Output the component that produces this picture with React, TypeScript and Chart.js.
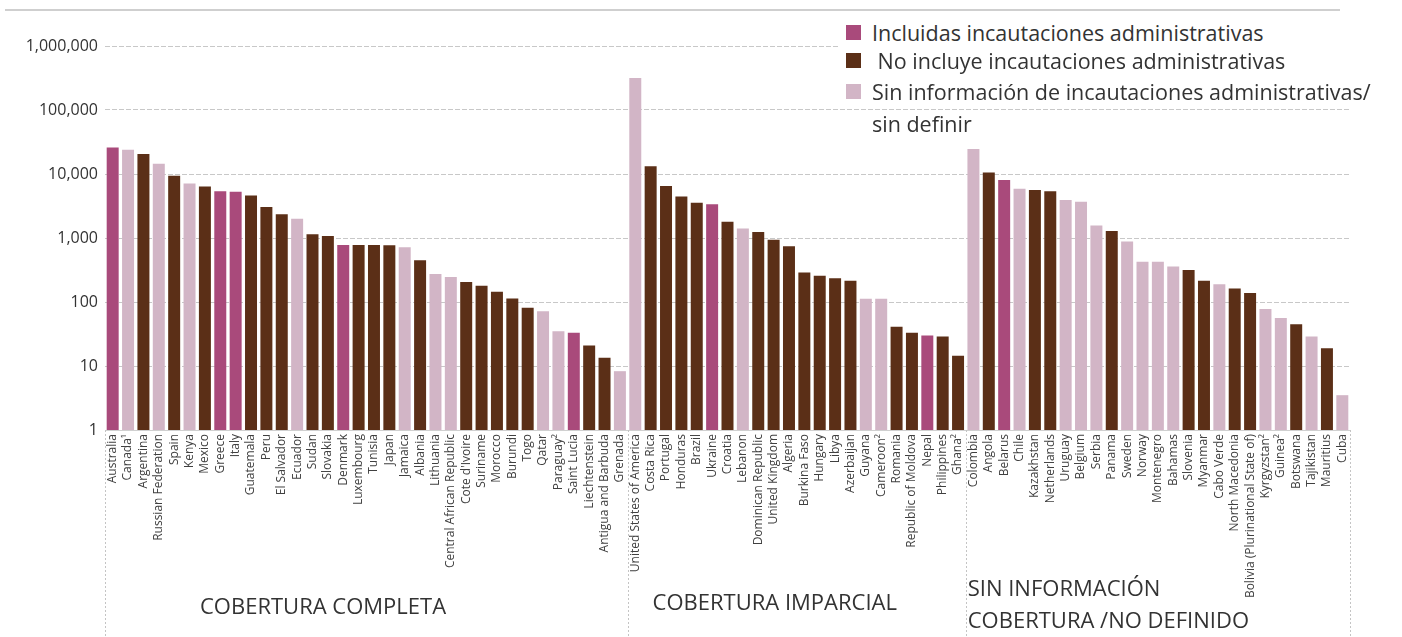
import React, { useEffect, useRef } from "react";
import { Chart, registerables } from "chart.js";

Chart.register(...registerables);

// I = incluidas incautaciones administrativas, N = no incluye, S = sin información / sin definir
const countries: string[] = [
  "Australia", "Canada¹", "Argentina", "Russian Federation", "Spain", "Kenya", "Mexico", "Greece", "Italy",
  "Guatemala", "Peru", "El Salvador", "Ecuador", "Sudan", "Slovakia", "Denmark", "Luxembourg", "Tunisia",
  "Japan", "Jamaica", "Albania", "Lithuania", "Central African Republic", "Cote d'Ivoire", "Suriname",
  "Morocco", "Burundi", "Togo", "Qatar", "Paraguay²", "Saint Lucia", "Liechtenstein", "Antigua and Barbuda",
  "Grenada",
  "United States of America", "Costa Rica", "Portugal", "Honduras", "Brazil", "Ukraine", "Croatia", "Lebanon",
  "Dominican Republic", "United Kingdom", "Algeria", "Burkina Faso", "Hungary", "Libya", "Azerbaijan", "Guyana",
  "Cameroon²", "Romania", "Republic of Moldova", "Nepal", "Philippines", "Ghana²",
  "Colombia", "Angola", "Belarus", "Chile", "Kazakhstan", "Netherlands", "Uruguay", "Belgium", "Serbia",
  "Panama", "Sweden", "Norway", "Montenegro", "Bahamas", "Slovenia", "Myanmar", "Cabo Verde",
  "North Macedonia", "Bolivia (Plurinational State of)", "Kyrgyzstan²", "Guinea²", "Botswana", "Tajikistan",
  "Mauritius", "Cuba",
];

const seizures: number[] = [
  26000, 24000, 20500, 14500, 9400, 7100, 6400, 5400, 5300,
  4600, 3050, 2350, 2000, 1140, 1070, 780, 775, 775,
  770, 720, 450, 275, 245, 205, 180,
  145, 113, 81, 72, 35, 33, 21, 13.5,
  8.3,
  315000, 13200, 6500, 4450, 3570, 3380, 1790, 1410,
  1240, 940, 740, 290, 258, 235, 215, 112,
  112, 41, 33, 30, 29, 14.5,
  24500, 10600, 8060, 5890, 5620, 5360, 3920, 3680, 1570,
  1290, 880, 425, 425, 360, 315, 215, 190,
  162, 138, 78, 56, 45, 29,
  19, 3.5,
];

const coverage: string[] = [
  "I", "S", "N", "S", "N", "S", "N", "I", "I",
  "N", "N", "N", "S", "N", "N", "I", "N", "N",
  "N", "S", "N", "S", "S", "N", "N",
  "N", "N", "N", "S", "S", "I", "N", "N",
  "S",
  "S", "N", "N", "N", "N", "I", "N", "S",
  "N", "N", "N", "N", "N", "N", "N", "S",
  "S", "N", "N", "I", "N", "N",
  "S", "N", "I", "S", "N", "N", "S", "S", "S",
  "N", "S", "S", "S", "S", "N", "N", "S",
  "N", "N", "S", "S", "N", "S",
  "N", "S",
];

const seriesKeys: string[] = ["I", "N", "S"];
const seriesNames: string[] = [
  "Incluidas incautaciones administrativas",
  " No incluye incautaciones administrativas",
  "Sin información de incautaciones administrativas/",
];
const seriesColors: string[] = ["#a94a7b", "#5b2f17", "#d2b5c6"];

const groupNames: string[][] = [
  ["COBERTURA COMPLETA"],
  ["COBERTURA IMPARCIAL"],
  ["SIN INFORMACIÓN", "COBERTURA /NO DEFINIDO"],
];
const groupFirstIndex: number[] = [0, 34, 56];

const yTicks: number[] = [1, 10, 100, 1000, 10000, 100000, 1000000];

const FONT = "'Open Sans', 'Noto Sans', sans-serif";

const groupPlugin = {
  id: "groupPlugin",
  afterDraw(chart: any) {
    const { ctx, chartArea } = chart;
    const x = chart.scales.x;
    const n = countries.length;
    const boundary = (b: number) => {
      if (b <= 0) return chartArea.left;
      if (b >= n) return chartArea.right;
      return (x.getPixelForValue(b - 1) + x.getPixelForValue(b)) / 2;
    };
    const bounds = [...groupFirstIndex, n];
    ctx.save();
    ctx.strokeStyle = "#c4c4c4";
    ctx.lineWidth = 1;
    ctx.setLineDash([2, 2]);
    bounds.forEach((b) => {
      const px = Math.round(boundary(b)) + 0.5;
      ctx.beginPath();
      ctx.moveTo(px, chartArea.bottom);
      ctx.lineTo(px, chart.height);
      ctx.stroke();
    });
    ctx.setLineDash([]);
    ctx.fillStyle = "#333333";
    ctx.font = `22px ${FONT}`;
    ctx.textBaseline = "middle";
    ctx.textAlign = "left";
    const offsets = [95, 25, 2];
    const ys = [[608], [604], [590, 622]];
    groupNames.forEach((lines, g) => {
      const left = boundary(groupFirstIndex[g]);
      lines.forEach((t, k) => {
        ctx.fillText(t, left + offsets[g], ys[g][k]);
      });
    });
    ctx.restore();
  },
};

export default function App() {
  const ref = useRef<HTMLCanvasElement | null>(null);

  useEffect(() => {
    if (!ref.current) return;
    const datasets = seriesKeys.map((k, si) => ({
      label: seriesNames[si],
      data: seizures.map((v, i) => (coverage[i] === k ? v : null)),
      backgroundColor: seriesColors[si],
      borderWidth: 0,
      skipNull: true,
      categoryPercentage: 1,
      barPercentage: 0.78,
    }));
    const chart = new Chart(ref.current, {
      type: "bar",
      data: { labels: countries, datasets: datasets as any },
      plugins: [groupPlugin],
      options: {
        responsive: false,
        animation: false,
        layout: { padding: { top: 46, right: 52, bottom: 0, left: 0 } },
        plugins: {
          legend: { display: false },
          tooltip: { enabled: false },
        },
        scales: {
          x: {
            grid: { display: false, drawTicks: false },
            border: { display: true, color: "#d0d0d0" },
            ticks: {
              autoSkip: false,
              maxRotation: 90,
              minRotation: 90,
              padding: 4,
              color: "#404040",
              font: { family: FONT, size: 12 },
            },
            afterFit(scale: any) {
              scale.height = 207;
            },
          },
          y: {
            type: "logarithmic",
            min: 1,
            max: 1000000,
            grid: { color: "#c8c8c8", drawTicks: false },
            border: { display: false, dash: [5, 2] },
            afterBuildTicks(scale: any) {
              scale.ticks = yTicks.map((v) => ({ value: v }));
            },
            afterFit(scale: any) {
              scale.width = 105;
            },
            ticks: {
              padding: 7,
              color: "#333333",
              font: { family: FONT, size: 16 },
              callback: (v: any) => Number(v).toLocaleString("en-US"),
            },
          },
        },
      },
    });
    return () => chart.destroy();
  }, []);

  const legendRow = (i: number, top: number) => (
    <div
      key={i}
      style={{
        position: "absolute",
        left: 838,
        top,
        width: 564,
        height: 30,
        background: "#ffffff",
        display: "flex",
        alignItems: "center",
      }}
    >
      <div style={{ width: 15, height: 15, background: seriesColors[i], marginLeft: 8, marginRight: 11 }} />
      <span style={{ whiteSpace: "pre", fontFamily: FONT, fontSize: 21.5, color: "#333333" }}>{seriesNames[i]}</span>
    </div>
  );

  return (
    <div style={{ position: "fixed", left: 0, top: 0, width: 1402, height: 637, background: "#ffffff", overflow: "hidden" }}>
      <canvas ref={ref} width={1402} height={637} style={{ position: "absolute", left: 0, top: 0 }} />
      <div style={{ position: "absolute", left: 5, top: 9, width: 1335, height: 2, background: "#cfcfcf" }} />
      {legendRow(0, 17)}
      {legendRow(1, 45)}
      {legendRow(2, 76)}
      <div
        style={{
          position: "absolute",
          left: 872,
          top: 109,
          fontFamily: FONT,
          fontSize: 21.5,
          color: "#333333",
          lineHeight: "30px",
        }}
      >
        sin definir
      </div>
    </div>
  );
}
